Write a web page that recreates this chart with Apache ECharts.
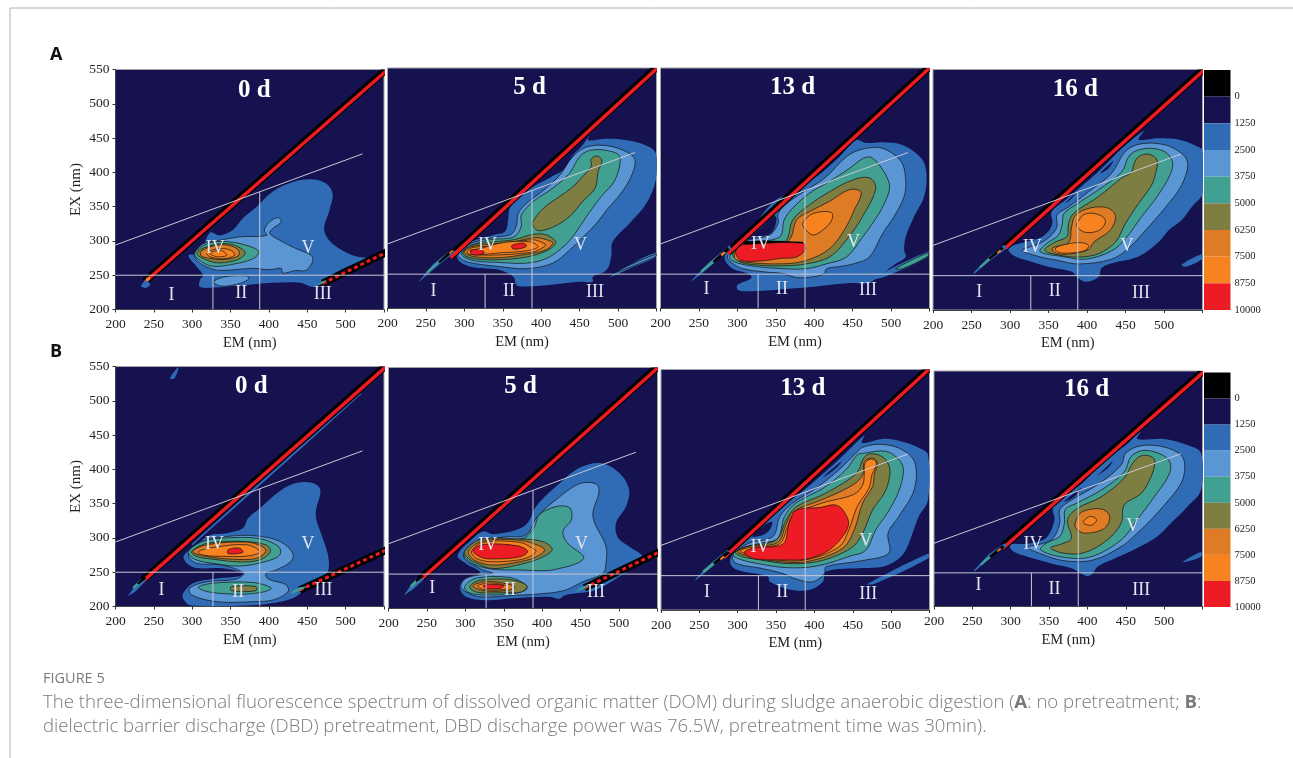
<!DOCTYPE html>
<html><head><meta charset="utf-8">
<style>html,body{margin:0;padding:0;background:#fff}#c{width:1293px;height:758px}</style>
<script src="https://cdn.jsdelivr.net/npm/echarts@6/dist/echarts.min.js"></script>
</head><body><div id="c"></div>
<script>
// ---------- shared values ----------
const levelTicks = [-1250,0,1250,2500,3750,5000,6250,7500,8750,10000];
const levelColors = ['#000000','#15124f','#2f6cb5','#5a96d3','#41a091','#7e7d42','#e07b25','#f68320','#ed1c24'];
const xTicks = [200,250,300,350,400,450,500];
const yTicks = [200,250,300,350,400,450,500,550];
const regionLines = [[[200,294],[522,427]],[[200,250],[550,250]],[[327,200],[327,250]],[[388,200],[388,371]]];
const captionHead = 'FIGURE 5';
const captionLine1 = 'The three-dimensional fluorescence spectrum of dissolved organic matter (DOM) during sludge anaerobic digestion (';
const captionLine2 = 'dielectric barrier discharge (DBD) pretreatment, DBD discharge power was 76.5W, pretreatment time was 30min).';

// ---------- panel A, 0 d ----------
const contourA0 = [
 [2,[[310,282],[323,312],[336,308],[353,316],[366,333],[384,350],[405,372],[431,386],[455,390],[474,384],[483,369],[479,345],[472,316],[483,296],[509,279],[529,274],[518,270],[492,257],[470,243],[459,233],[440,239],[405,239],[362,235],[327,232],[310,233],[310,243],[314,250],[306,262],[295,279]]],
 [3,[[303,282],[314,296],[336,301],[362,306],[397,308],[394,316],[401,328],[412,334],[416,328],[405,318],[401,311],[414,301],[435,289],[455,279],[457,270],[448,257],[435,257],[418,253],[416,260],[401,258],[379,260],[336,257],[319,262],[306,272]]],
 [3,[[329,242],[344,248],[371,249],[374,245],[362,238],[340,234],[329,238]]],
 [4,[[303,282],[320,296],[346,299],[375,292],[387,284],[379,274],[353,266],[327,263],[312,270]]],
 [5,[[306,282],[320,292],[346,296],[364,289],[369,282],[360,273],[336,268],[319,272]]],
 [6,[[311,284],[325,292],[345,294],[360,287],[360,278],[340,273],[321,275],[312,278]]],
 [7,[[319,283],[336,289],[351,286],[355,279],[340,274],[323,277]]],
 [7,[[323,282],[338,286],[345,279],[332,277]]]
];
const bandA0 = [[[238,241],[556,553]],[[238,239.8],[556,551]]];
const tailA0 = [[2,[[233,233],[240,231],[246,236],[240,244],[235,238]]],[7,[[240,241],[245,243],[245,248],[240,246]]],[4,[[460,234],[470,238],[476,243],[468,241]]]];
const secondA0 = [[470,238],[556,285]];
const labelsA0 = [[273,221,'I'],[364,224,'II'],[470,222,'III'],[330,289,'IV'],[451,289,'V']];
const titleA0 = [381,520,'0 d'];

// ---------- panel A, 5 d ----------
const contourA5 = [
 [2,[[463,453],[461,445],[485,447],[511,445],[535,438],[549,426],[549,387],[537,353],[515,324],[493,297],[491,275],[485,256],[467,246],[467,239],[450,239],[416,235],[381,232],[368,234],[364,246],[346,256],[312,260],[294,268],[290,283],[299,292],[316,300],[338,307],[353,312],[357,329],[359,346],[372,363],[394,380],[416,394],[437,419],[454,438]]],
 [1,[[414,394],[431,413],[445,425],[441,413],[424,398]]],
 [2,[[489,246],[519,266],[549,281],[549,275],[519,260],[493,247]]],
 [3,[[500,255],[549,279],[549,276],[506,256]]],
 [3,[[292,278],[301,290],[320,299],[342,304],[361,308],[368,321],[370,338],[381,353],[403,372],[424,394],[441,421],[459,435],[485,437],[511,428],[522,416],[517,392],[504,368],[485,343],[472,324],[450,299],[437,285],[415,266],[381,258],[346,261],[316,265],[299,270]]],
 [4,[[296,280],[305,290],[333,300],[364,304],[374,319],[374,336],[390,356],[415,375],[437,397],[450,421],[463,430],[485,430],[502,421],[496,387],[478,363],[459,334],[444,309],[431,292],[407,273],[381,266],[346,267],[316,269],[301,274]]],
 [5,[[389,326],[403,346],[424,363],[439,375],[454,392],[465,407],[465,417],[472,422],[479,416],[474,399],[470,375],[454,356],[439,336],[420,321],[398,313],[390,319]]],
 [5,[[298,281],[307,291],[338,297],[364,300],[390,308],[407,307],[419,296],[407,284],[381,275],[346,271],[316,272],[302,276]]],
 [6,[[300,283],[310,290],[338,294],[364,297],[392,303],[407,300],[415,295],[405,285],[381,279],[346,274],[316,275],[303,279]]],
 [7,[[304,284],[312,289],[338,291],[364,296],[390,300],[403,295],[406,292],[394,284],[381,281],[346,278],[316,278],[305,280]]],
 [7,[[307,284],[320,287],[351,296],[385,297],[396,290],[381,284],[346,281],[320,279]]],
 [8,[[308,284],[320,286],[326,281],[318,278],[310,279]]],
 [8,[[362,292],[377,295],[381,291],[372,287],[363,287]]]
];
const bandA5 = [[[282,276],[556,557]],[[282,274],[556,555]]];
const tailA5 = [[2,[[240,238],[262,259],[288,283],[286,288],[260,265],[242,241]]],[4,[[252,251],[280,279],[278,281],[250,253]]],[0,[[268,266],[288,285],[285,288],[266,268]]],[7,[[281,279],[286,284],[284,285],[280,281]]]];
const secondA5 = null;
const labelsA5 = [[260,225,'I'],[358,225,'II'],[470,224,'III'],[330,292,'IV'],[451,292,'V']];
const titleA5 = [385,521,'5 d'];

// ---------- panel A, 13 d ----------
const contourA13 = [
 [2,[[454,445],[467,441],[489,442],[515,438],[539,419],[546,397],[543,363],[530,334],[519,304],[517,285],[519,275],[506,265],[489,251],[470,237],[446,237],[403,232],[359,228],[316,225],[301,227],[300,234],[318,244],[316,250],[294,258],[285,268],[284,278],[294,290],[316,314],[348,356],[372,370],[403,392],[433,421]]],
 [2,[[475,243],[548,283],[548,275],[491,246]]],
 [4,[[506,258],[548,281],[548,276],[515,258]]],
 [1,[[314,300],[325,304],[344,310],[351,330],[347,336],[334,321]]],
 [3,[[463,432],[489,433],[513,414],[519,387],[517,363],[504,334],[489,309],[472,275],[454,266],[433,261],[416,258],[413,251],[398,246],[377,245],[359,251],[338,253],[307,258],[292,267],[287,275],[294,287],[316,300],[342,307],[353,324],[353,338],[368,356],[394,375],[416,392],[442,421]]],
 [4,[[474,420],[489,402],[498,377],[489,348],[476,324],[463,304],[442,275],[416,265],[390,258],[359,258],[325,261],[301,266],[290,273],[294,283],[312,295],[355,304],[361,329],[372,346],[394,368],[420,385],[446,404],[463,418]]],
 [5,[[480,375],[472,390],[450,387],[420,370],[394,351],[372,329],[366,304],[359,296],[312,293],[294,280],[303,268],[329,263],[359,262],[390,265],[420,275],[442,300],[463,334]]],
 [6,[[461,369],[446,373],[420,356],[394,341],[377,329],[370,304],[359,294],[307,294],[296,275],[307,268],[359,265],[390,270],[420,287],[439,314],[452,343]]],
 [7,[[385,324],[398,338],[422,340],[423,329],[411,314],[398,307],[387,317]]],
 [0,[[309,293],[311,298],[385,297],[385,294]]],
 [8,[[301,290],[309,293],[385,295],[388,285],[377,275],[357,273],[329,269],[305,270],[298,280]]]
];
const bandA13 = [[[288,282],[556,558]],[[288,280],[556,556]]];
const tailA13 = [[2,[[240,239],[262,259],[292,287],[290,292],[262,266],[242,243]]],[4,[[254,252],[282,279],[280,282],[252,255]]],[0,[[270,266],[290,286],[287,289],[268,269]]],[7,[[280,276],[285,281],[283,283],[278,279]]]];
const secondA13 = null;
const labelsA13 = [[260,228,'I'],[358,228,'II'],[470,226,'III'],[330,293,'IV'],[451,296,'V']];
const titleA13 = [372,522,'13 d'];

// ---------- panel A, 16 d ----------
const contourA16 = [
 [2,[[474,461],[467,448],[493,450],[519,448],[541,439],[550,432],[550,370],[536,350],[523,331],[506,316],[493,299],[467,278],[432,268],[419,261],[415,248],[398,241],[387,248],[380,256],[354,262],[329,270],[305,279],[298,290],[320,299],[337,304],[348,312],[355,326],[354,343],[372,360],[393,380],[419,406],[445,435]]],
 [1,[[417,399],[434,417],[428,406]]],
 [1,[[372,356],[385,370],[378,360]]],
 [2,[[523,266],[549,281],[549,274],[528,263]]],
 [3,[[450,431],[471,442],[502,440],[525,426],[531,411],[523,382],[506,355],[480,321],[454,290],[432,274],[389,267],[363,272],[337,278],[316,287],[337,296],[352,307],[361,321],[361,338],[376,350],[402,372],[432,399]]],
 [4,[[456,426],[476,435],[500,431],[511,416],[508,397],[491,365],[471,336],[450,304],[432,286],[398,274],[367,278],[339,285],[348,297],[363,309],[368,326],[370,340],[385,353],[415,375],[445,401]]],
 [5,[[461,413],[467,423],[480,427],[491,418],[489,399],[484,382],[467,355],[450,326],[437,299],[415,282],[389,277],[363,280],[345,287],[357,298],[374,307],[376,326],[383,341],[415,365],[445,392],[458,401]]],
 [6,[[355,290],[376,298],[380,321],[385,338],[406,349],[428,348],[437,336],[430,316],[409,299],[402,288],[380,282],[361,282]]],
 [7,[[359,290],[374,296],[393,298],[402,294],[398,287],[380,283],[363,284]]],
 [7,[[387,326],[398,340],[417,338],[424,329],[416,316],[398,313],[388,320]]]
];
const bandA16 = [[[294,292],[556,555]],[[294,290],[556,553]]];
const tailA16 = [[2,[[253,252],[276,274],[296,290],[293,295],[274,279],[253,255]]],[4,[[262,261],[282,280],[280,283],[260,263]]],[0,[[274,273],[292,289],[289,292],[272,276]]],[7,[[284,282],[289,286],[287,288],[283,284]]]];
const secondA16 = null;
const labelsA16 = [[260,226,'I'],[358,227,'II'],[470,224,'III'],[329,292,'IV'],[452,293,'V']];
const titleA16 = [385,521,'16 d'];

// ---------- panel B, 0 d ----------
const contourB0 = [
 [2,[[289,274],[306,290],[323,304],[345,307],[366,314],[373,329],[388,343],[414,368],[435,380],[457,380],[467,370],[461,334],[470,300],[477,275],[477,251],[466,241],[444,222],[431,212],[405,205],[379,202],[297,202],[288,212],[288,219],[301,234],[332,241],[362,244],[366,249],[336,256],[306,256],[293,263]]],
 [2,[[271,533],[282,549],[277,533]]],
 [2,[[300,289],[520,509],[520,511],[300,292]]],
 [3,[[295,275],[310,292],[345,302],[383,303],[414,295],[431,278],[429,266],[409,253],[396,248],[399,240],[422,232],[425,222],[407,210],[379,207],[332,207],[299,217],[297,227],[319,236],[358,240],[367,249],[336,261],[306,263]]],
 [4,[[295,280],[314,295],[345,300],[388,299],[413,287],[414,275],[397,266],[362,259],[327,263],[303,269]]],
 [4,[[308,228],[327,234],[379,235],[403,227],[392,221],[362,218],[323,221]]],
 [5,[[299,280],[319,292],[362,295],[396,290],[402,280],[388,268],[362,265],[327,269],[306,273]]],
 [5,[[351,229],[383,229],[383,223],[351,223]]],
 [6,[[301,280],[319,290],[371,294],[392,287],[396,280],[383,270],[353,269],[319,273]]],
 [7,[[308,280],[327,286],[371,290],[388,280],[375,274],[345,273],[314,275]]],
 [8,[[347,283],[362,285],[366,279],[347,277]]]
];
const bandB0 = [[[236,239],[556,555]],[[236,237],[556,553]]];
const tailB0 = [[2,[[216,215],[226,222],[240,238],[236,242],[224,228]]],[4,[[224,226],[236,238],[233,240],[222,228]]],[0,[[230,232],[240,241],[237,244],[228,234]]],[4,[[429,218],[445,226],[450,230],[440,228],[430,222]]]];
const secondB0 = [[440,224],[556,284]];
const labelsB0 = [[260,223,'I'],[360,221,'II'],[471,223,'III'],[329,291,'IV'],[451,291,'V']];
const titleB0 = [377,521,'0 d'];

// ---------- panel B, 5 d ----------
const contourB5 = [
 [2,[[290,277],[308,300],[323,312],[336,308],[366,314],[381,324],[392,348],[418,377],[448,404],[477,411],[500,397],[513,373],[509,348],[496,324],[498,304],[513,290],[531,275],[522,263],[500,246],[470,227],[444,222],[429,219],[422,214],[409,217],[362,215],[327,212],[301,217],[293,229],[297,241],[310,247],[319,253],[301,265]]],
 [3,[[298,275],[312,296],[353,304],[379,307],[394,334],[418,358],[448,381],[470,381],[474,370],[466,334],[483,290],[483,266],[479,251],[453,239],[431,227],[405,222],[362,219],[319,217],[301,224],[294,232],[301,244],[327,250],[336,251],[319,258]]],
 [4,[[298,280],[316,297],[375,302],[390,319],[396,336],[418,348],[436,346],[438,329],[427,312],[433,295],[454,275],[446,266],[422,258],[405,255],[371,256],[336,257],[310,265]]],
 [4,[[299,232],[314,244],[358,245],[379,234],[379,227],[358,221],[319,220],[303,224]]],
 [5,[[299,283],[319,300],[371,301],[401,297],[413,286],[401,275],[375,265],[336,258],[312,267],[302,275]]],
 [5,[[306,233],[319,241],[358,242],[380,233],[373,224],[353,223],[319,223],[308,227]]],
 [6,[[304,283],[323,298],[371,299],[394,292],[403,285],[392,275],[371,268],[336,263],[312,270]]],
 [6,[[310,233],[327,239],[353,236],[364,231],[353,226],[323,226]]],
 [7,[[308,283],[323,296],[371,296],[388,287],[392,283],[383,275],[366,270],[332,268],[314,273]]],
 [7,[[316,233],[332,237],[351,234],[355,230],[345,227],[323,228]]],
 [8,[[310,284],[323,293],[368,291],[381,283],[371,275],[332,272],[319,275]]],
 [8,[[323,233],[336,235],[350,233],[345,229],[329,229]]]
];
const bandB5 = [[[241,243],[556,557]],[[241,241],[556,555]]];
const tailB5 = [[2,[[220,219],[232,228],[246,242],[241,247],[229,234]]],[4,[[230,230],[240,240],[236,243],[228,233]]],[0,[[236,238],[246,247],[242,249],[235,241]]],[4,[[444,224],[460,232],[462,236],[448,229]]]];
const secondB5 = [[455,230],[556,284]];
const labelsB5 = [[257,229,'I'],[358,227,'II'],[470,224,'III'],[329,292,'IV'],[451,293,'V']];
const titleB5 = [372,523,'5 d'];

// ---------- panel B, 13 d ----------
const contourB13 = [
 [2,[[465,454],[462,443],[489,449],[515,445],[536,436],[548,426],[548,360],[536,336],[528,312],[519,287],[508,273],[489,263],[463,261],[415,256],[411,241],[393,229],[367,230],[342,241],[339,249],[298,259],[290,270],[296,285],[316,307],[350,343],[389,377],[432,419]]],
 [2,[[469,238],[548,282],[548,275],[478,238]]],
 [1,[[319,307],[333,309],[342,317],[345,328],[335,324]]],
 [1,[[411,393],[435,416],[428,406]]],
 [3,[[463,437],[489,441],[515,433],[531,414],[530,375],[510,336],[496,312],[497,283],[463,272],[415,263],[413,253],[398,241],[376,245],[359,253],[329,261],[300,267],[293,275],[300,287],[316,298],[346,307],[355,336],[372,356],[402,377],[432,404],[454,428]]],
 [4,[[463,428],[493,431],[510,419],[516,404],[510,373],[495,341],[480,317],[467,287],[445,278],[415,267],[389,262],[359,262],[329,267],[305,273],[294,280],[305,290],[329,297],[352,304],[361,336],[376,356],[411,377],[441,404],[456,426]]],
 [5,[[463,419],[471,427],[487,424],[497,411],[498,394],[491,370],[476,346],[463,312],[450,292],[419,275],[389,268],[359,268],[329,273],[305,278],[297,284],[311,292],[350,302],[363,331],[376,350],[411,368],[445,390],[458,404]]],
 [6,[[463,397],[465,416],[476,421],[482,414],[478,397],[476,380],[463,356],[452,317],[437,290],[393,271],[359,270],[316,278],[300,285],[316,293],[352,298],[363,324],[372,343],[411,361],[450,382]]],
 [7,[[465,399],[466,414],[475,420],[481,413],[475,397],[471,377],[456,351],[445,317],[432,292],[389,273],[350,273],[311,282],[303,286],[316,291],[354,296],[365,321],[372,338],[411,356],[451,368],[463,382]]],
 [8,[[309,285],[324,291],[359,296],[367,326],[376,345],[406,349],[430,352],[444,331],[441,314],[419,287],[389,274],[359,273],[324,274],[311,280]]]
];
const bandB13 = [[[282,278],[556,559]],[[282,276],[556,557]]];
const tailB13 = [[2,[[245,243],[268,264],[290,283],[287,288],[265,268],[245,245]]],[4,[[256,254],[276,272],[274,275],[254,257]]],[0,[[270,266],[290,283],[286,286],[268,269]]],[7,[[278,272],[283,277],[281,279],[277,275]]]];
const secondB13 = null;
const labelsB13 = [[260,226,'I'],[358,226,'II'],[470,223,'III'],[329,291,'IV'],[467,300,'V']];
const titleB13 = [385,522,'13 d'];

// ---------- panel B, 16 d ----------
const contourB16 = [
 [2,[[470,461],[465,449],[500,449],[530,440],[548,428],[548,373],[530,348],[509,324],[491,304],[465,287],[431,269],[413,259],[407,249],[400,245],[392,249],[379,257],[353,264],[322,274],[303,282],[299,292],[318,293],[335,296],[348,304],[357,329],[355,348],[370,363],[396,386],[422,418],[448,438]]],
 [1,[[416,398],[433,416],[426,405],[413,395]]],
 [1,[[370,356],[392,376],[383,363]]],
 [2,[[524,266],[548,281],[548,274],[530,267]]],
 [3,[[450,428],[470,439],[500,437],[522,425],[527,408],[522,383],[502,353],[483,329],[465,309],[444,289],[407,269],[370,268],[340,278],[322,288],[340,293],[355,301],[364,324],[364,344],[379,358],[413,381],[444,410]]],
 [4,[[457,423],[474,432],[498,425],[508,413],[506,395],[487,363],[465,329],[444,299],[405,274],[370,273],[339,284],[346,294],[364,304],[370,324],[371,344],[385,353],[418,373],[448,400]]],
 [5,[[459,413],[470,424],[483,423],[488,415],[483,393],[470,368],[448,351],[444,324],[426,299],[396,280],[370,279],[352,287],[366,293],[379,301],[374,329],[387,346],[418,363],[448,391]]],
 [6,[[384,324],[392,340],[418,345],[429,334],[422,316],[396,309],[385,316]]],
 [7,[[395,327],[404,334],[412,329],[406,321],[396,323]]]
];
const bandB16 = [[[290,289],[556,555]],[[290,287],[556,553]]];
const tailB16 = [[2,[[253,252],[274,274],[295,290],[292,294],[272,278],[252,254]]],[4,[[262,261],[280,278],[278,281],[260,263]]],[0,[[274,272],[292,288],[289,291],[272,275]]],[7,[[283,281],[288,285],[286,287],[282,283]]]];
const secondB16 = null;
const labelsB16 = [[258,231,'I'],[357,226,'II'],[470,224,'III'],[329,293,'IV'],[459,319,'V']];
const titleB16 = [399,523,'16 d'];

// ---------- layout (pixels), kept apart from the data ----------
const panels = [
 {box:[115.5,69.5,268.5,240],yAxis:true,c:contourA0,b:bandA0,t:tailA0,s:secondA0,l:labelsA0,h:titleA0},
 {box:[387.5,68,269,240.5],c:contourA5,b:bandA5,t:tailA5,s:secondA5,l:labelsA5,h:titleA5},
 {box:[660.5,68,269,240.5],c:contourA13,b:bandA13,t:tailA13,s:secondA13,l:labelsA13,h:titleA13},
 {box:[933,69.5,269.5,240.5],c:contourA16,b:bandA16,t:tailA16,s:secondA16,l:labelsA16,h:titleA16},
 {box:[115.5,366.5,268.5,240],yAxis:true,c:contourB0,b:bandB0,t:tailB0,s:secondB0,l:labelsB0,h:titleB0},
 {box:[388.5,367.5,269,241],c:contourB5,b:bandB5,t:tailB5,s:secondB5,l:labelsB5,h:titleB5},
 {box:[661,369.5,268.5,240.5],c:contourB13,b:bandB13,t:tailB13,s:secondB13,l:labelsB13,h:titleB13},
 {box:[934,371,268.5,235.5],c:contourB16,b:bandB16,t:tailB16,s:secondB16,l:labelsB16,h:titleB16}
];
const legends = [[1204,70,26.5,240],[1204,372.5,26.5,234.5]];
const SERIF = '"Liberation Serif","Times New Roman",serif';
const SANS = '"Open Sans","Noto Sans",sans-serif';

const grids=[], xAxes=[], yAxes=[], series=[];

function buildItems(p){
  const items=[];
  p.c.forEach(c=>items.push({k:'poly',lv:c[0],pts:c[1]}));
  items.push({k:'line',pts:p.b[0],color:'#000',w:7.5});
  items.push({k:'line',pts:p.b[1],color:levelColors[8],w:3.5});
  if(p.s){
    items.push({k:'line',pts:p.s,color:'#000',w:7.5});
    items.push({k:'line',pts:p.s,color:levelColors[8],w:3,dash:[4,3]});
  }
  p.t.forEach(c=>items.push({k:'poly',lv:c[0],pts:c[1],flat:true}));
  regionLines.forEach(l=>items.push({k:'line',pts:l,color:'#c9c9d6',w:1}));
  p.l.forEach(l=>items.push({k:'text',at:[l[0],l[1]],text:l[2],size:18,weight:'normal',color:'#e4e4f0'}));
  items.push({k:'text',at:[p.h[0],p.h[1]],text:p.h[2],size:25,weight:'bold',color:'#fff'});
  return items;
}

panels.forEach((p,i)=>{
  grids.push({left:p.box[0],top:p.box[1],width:p.box[2],height:p.box[3],show:true,backgroundColor:levelColors[1],borderColor:'#a3a3a8',borderWidth:1});
  xAxes.push({gridIndex:i,type:'value',min:xTicks[0],max:550,interval:50,name:'EM (nm)',nameLocation:'middle',nameGap:26,
    nameTextStyle:{fontFamily:SERIF,fontSize:14.5,color:'#222'},
    axisLine:{show:true,lineStyle:{color:'#444',width:1}},axisTick:{show:true,length:3,lineStyle:{color:'#333'}},splitLine:{show:false},
    axisLabel:{fontFamily:SERIF,fontSize:13.5,color:'#222',margin:8,hideOverlap:false,formatter:v=>xTicks.includes(v)?String(v):''}});
  yAxes.push({gridIndex:i,type:'value',min:yTicks[0],max:yTicks[yTicks.length-1],interval:50,show:!!p.yAxis,name:'EX (nm)',nameLocation:'middle',nameGap:32,nameRotate:90,
    nameTextStyle:{fontFamily:SERIF,fontSize:15,color:'#222'},
    axisLine:{show:true,lineStyle:{color:'#444',width:1}},axisTick:{show:true,length:3,lineStyle:{color:'#333'}},splitLine:{show:false},
    axisLabel:{fontFamily:SERIF,fontSize:13.5,color:'#222',margin:6,showMaxLabel:true,showMinLabel:true}});
  const items=buildItems(p);
  series.push({type:'custom',xAxisIndex:i,yAxisIndex:i,coordinateSystem:'cartesian2d',clip:true,silent:true,animation:false,
    encode:{x:0,y:1},data:items.map((_,j)=>[300,300,j]),
    renderItem:(params,api)=>{
      const it=items[api.value(2)];
      if(it.k==='poly'){
        const pts=it.pts.map(q=>api.coord(q));
        const outline=it.lv>=3&&!it.flat;
        return {type:'polygon',shape:{points:pts,smooth:it.flat?0:0.35},
          style:{fill:levelColors[it.lv],stroke:outline?'#111':null,lineWidth:outline?0.7:0}};
      }
      if(it.k==='line'){
        const pts=it.pts.map(q=>api.coord(q));
        return {type:'polyline',shape:{points:pts},style:{fill:null,stroke:it.color,lineWidth:it.w,lineDash:it.dash||null}};
      }
      const c=api.coord(it.at);
      return {type:'text',x:c[0],y:c[1],style:{text:it.text,fill:it.color,font:it.weight+' '+it.size+'px '+SERIF,textAlign:'center',textVerticalAlign:'middle'}};
    }});
});

legends.forEach((b,n)=>{
  const idx=panels.length+n;
  grids.push({left:b[0],top:b[1],width:b[2],height:b[3],show:false});
  xAxes.push({gridIndex:idx,type:'value',min:0,max:1,show:false});
  yAxes.push({gridIndex:idx,type:'value',inverse:true,position:'right',min:levelTicks[0],max:levelTicks[levelTicks.length-1],interval:1250,
    axisLine:{show:false},axisTick:{show:false},splitLine:{show:false},
    axisLabel:{fontFamily:SERIF,fontSize:10.5,color:'#222',margin:4,showMinLabel:true,showMaxLabel:true,formatter:v=>v<0?'':String(v)}});
  series.push({type:'custom',xAxisIndex:idx,yAxisIndex:idx,coordinateSystem:'cartesian2d',silent:true,animation:false,
    encode:{y:1},data:levelColors.map((_,j)=>[0,levelTicks[j],levelTicks[j+1],j]),
    renderItem:(params,api)=>{
      const a=api.coord([0,api.value(1)]),z=api.coord([1,api.value(2)]);
      return {type:'rect',shape:{x:a[0],y:a[1],width:z[0]-a[0],height:z[1]-a[1]},style:{fill:levelColors[api.value(3)]}};
    }});
});

const capColor='#7a7a7a';
const capStyle={fill:capColor,font:'300 18.6px '+SANS,textVerticalAlign:'middle'};
const chart=echarts.init(document.getElementById('c'),null,{renderer:'canvas'});
chart.setOption({
  backgroundColor:'#fff',animation:false,
  grid:grids,xAxis:xAxes,yAxis:yAxes,series:series,
  graphic:[
    {type:'line',shape:{x1:10,y1:8,x2:1293,y2:8},style:{stroke:'#b0b0b0',lineWidth:1}},
    {type:'line',shape:{x1:10,y1:8,x2:10,y2:758},style:{stroke:'#b0b0b0',lineWidth:1}},
    {type:'text',x:50,y:55,style:{text:'A',fill:'#111',font:'bold 18px '+SANS,textVerticalAlign:'middle'}},
    {type:'text',x:50,y:352,style:{text:'B',fill:'#111',font:'bold 18px '+SANS,textVerticalAlign:'middle'}},
    {type:'text',x:43,y:679,style:{text:captionHead,fill:capColor,font:'14.5px '+SANS,textVerticalAlign:'middle'}},
    {type:'text',x:43,y:703,style:Object.assign({},capStyle,{text:captionLine1+'{b|A}: no pretreatment; {b|B}:',rich:{b:{fontWeight:'bold',fontSize:18.6,fontFamily:SANS,fill:capColor,color:capColor}}})},
    {type:'text',x:43,y:727,style:Object.assign({},capStyle,{text:captionLine2})}
  ]
});
</script></body></html>
